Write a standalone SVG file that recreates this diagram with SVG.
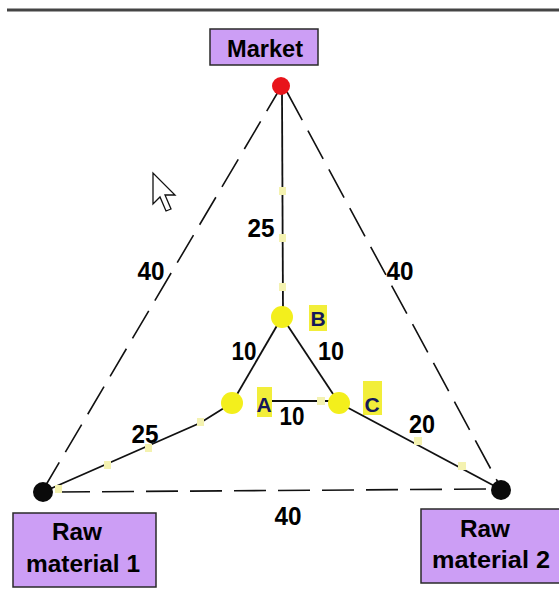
<svg xmlns="http://www.w3.org/2000/svg" width="559" height="608" viewBox="0 0 559 608">
<style>
.box{fill:#cc9ef5;stroke:#2a2a2a;stroke-width:1.5}
.t{font-family:"Liberation Sans",Arial,sans-serif;font-weight:bold;fill:#000}
.lbl{font-size:26px;text-anchor:middle}
.ttl{font-size:24px;text-anchor:middle}
.solid{fill:none;stroke:#111;stroke-width:1.8}
.dash{fill:none;stroke:#111;stroke-width:1.6;stroke-dasharray:32 12}
.yel{fill:#f3ef1c}
.ybg{fill:#f2ee3a}
.tick{fill:#f4f2b0}
.let{font-family:"Liberation Sans",Arial,sans-serif;font-weight:bold;font-size:21px;fill:#14185a;text-anchor:middle}
</style>
<rect width="559" height="608" fill="#fff"/>
<line x1="7" y1="10" x2="559" y2="10" stroke="#444" stroke-width="3"/>

<g id="connectors">
  <line class="dash" x1="43" y1="490" x2="278" y2="92"/>
  <line class="dash" x1="287" y1="92" x2="500" y2="486"/>
  <line class="dash" x1="58" y1="492" x2="492" y2="489"/>
  <line class="solid" x1="282" y1="92" x2="283" y2="314"/>
  <polyline class="solid" points="43,492 200,423 232,403"/>
  <polyline class="solid" points="339,403 502,490"/>
  <line class="solid" x1="282" y1="317" x2="232" y2="403"/>
  <line class="solid" x1="282" y1="317" x2="339" y2="403"/>
  <line class="solid" x1="272" y1="401" x2="330" y2="401"/>
  <rect class="tick" x="279" y="187" width="7" height="8"/>
  <rect class="tick" x="279" y="234" width="7" height="8"/>
  <rect class="tick" x="279" y="283" width="7" height="8"/>
  <rect class="tick" x="104" y="461" width="7" height="8"/>
  <rect class="tick" x="145" y="444" width="7" height="8"/>
  <rect class="tick" x="197" y="418" width="7" height="8"/>
  <rect class="tick" x="55" y="485" width="7" height="8"/>
  <rect class="tick" x="414" y="437" width="8" height="8"/>
  <rect class="tick" x="458" y="462" width="8" height="8"/>
  <rect class="tick" x="317" y="397" width="8" height="8"/>
  <text class="t lbl" x="261" y="237" textLength="27" lengthAdjust="spacingAndGlyphs">25</text>
  <text class="t lbl" x="151" y="280" textLength="27" lengthAdjust="spacingAndGlyphs">40</text>
  <text class="t lbl" x="400" y="280" textLength="27" lengthAdjust="spacingAndGlyphs">40</text>
  <text class="t lbl" x="244" y="360" textLength="25" lengthAdjust="spacingAndGlyphs">10</text>
  <text class="t lbl" x="331" y="360" textLength="26" lengthAdjust="spacingAndGlyphs">10</text>
  <text class="t lbl" x="292" y="425" textLength="25" lengthAdjust="spacingAndGlyphs">10</text>
  <text class="t lbl" x="145" y="443" textLength="27" lengthAdjust="spacingAndGlyphs">25</text>
  <text class="t lbl" x="422" y="433" textLength="26" lengthAdjust="spacingAndGlyphs">20</text>
  <text class="t lbl" x="288" y="525" textLength="27" lengthAdjust="spacingAndGlyphs">40</text>
</g>

<g id="market">
  <rect class="box" x="210" y="29" width="108" height="36"/>
  <text class="t ttl" x="265" y="57" font-size="26" textLength="76" lengthAdjust="spacingAndGlyphs">Market</text>
  <circle cx="281" cy="86" r="9" fill="#e8141a"/>
</g>

<g id="nodeB">
  <circle class="yel" cx="282" cy="317" r="11"/>
  <rect class="ybg" x="309" y="305" width="18" height="26"/>
  <text class="let" x="318" y="326">B</text>
</g>

<g id="nodeA">
  <circle class="yel" cx="232" cy="403" r="11"/>
  <rect class="ybg" x="257" y="387" width="15" height="30"/>
  <text class="let" x="264" y="412">A</text>
</g>

<g id="nodeC">
  <circle class="yel" cx="339" cy="403" r="11"/>
  <rect class="ybg" x="363" y="381" width="19" height="34"/>
  <text class="let" x="372" y="412">C</text>
</g>

<g id="raw1">
  <circle cx="43" cy="492" r="10" fill="#0a0a0a"/>
  <rect class="box" x="13" y="513" width="143" height="74"/>
  <text class="t ttl" x="77" y="540" textLength="50" lengthAdjust="spacingAndGlyphs">Raw</text>
  <text class="t ttl" x="83" y="572" textLength="114" lengthAdjust="spacingAndGlyphs">material 1</text>
</g>

<g id="raw2">
  <circle cx="501" cy="490" r="10" fill="#0a0a0a"/>
  <rect class="box" x="421" y="509" width="140" height="74"/>
  <text class="t ttl" x="485" y="537" textLength="50" lengthAdjust="spacingAndGlyphs">Raw</text>
  <text class="t ttl" x="491" y="568" textLength="118" lengthAdjust="spacingAndGlyphs">material 2</text>
</g>

<path d="M153,173 L153,204 L160,197 L166,211 L171,209 L165,195 L175,195 Z" fill="#fff" stroke="#111" stroke-width="1.3"/>
</svg>
